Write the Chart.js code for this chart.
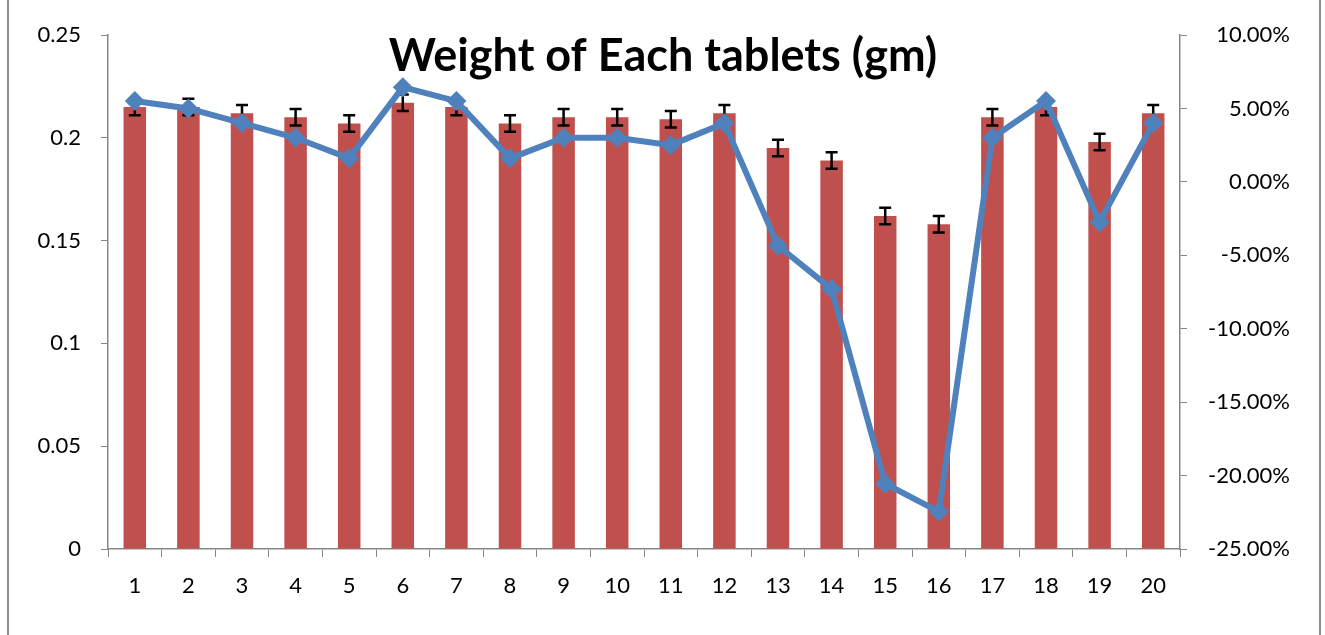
<!DOCTYPE html>
<html>
<head>
<meta charset="utf-8">
<script src="https://cdn.jsdelivr.net/npm/chart.js"></script>
<style>
html, body { margin: 0; padding: 0; background: #fff; }
#wrap { width: 1325px; height: 635px; }
</style>
</head>
<body>
<div id="wrap"><canvas id="weightChart" width="1325" height="635"></canvas></div>
<script>
// tablet numbers
var tablets = ["1", "2", "3", "4", "5", "6", "7", "8", "9", "10",
               "11", "12", "13", "14", "15", "16", "17", "18", "19", "20"];
// weight of each tablet (gm)
var weights = [0.215, 0.215, 0.212, 0.210, 0.207, 0.217, 0.215, 0.207, 0.210, 0.210,
               0.209, 0.212, 0.195, 0.189, 0.162, 0.158, 0.210, 0.215, 0.198, 0.212];
// error bar size
var weightErrors = [0.004, 0.004, 0.004, 0.004, 0.004, 0.004, 0.004, 0.004, 0.004, 0.004,
                    0.004, 0.004, 0.004, 0.004, 0.004, 0.004, 0.004, 0.004, 0.004, 0.004];
// % deviation (right axis)
var deviation = [5.5, 5.0, 4.0, 3.0, 1.6, 6.45, 5.5, 1.6, 3.0, 3.0,
                 2.5, 4.0, -4.35, -7.3, -20.55, -22.45, 3.0, 5.5, -2.75, 4.0];
var leftTicks = [0, 0.05, 0.1, 0.15, 0.2, 0.25];
var rightTicks = [-25, -20, -15, -10, -5, 0, 5, 10];

var axisGrey = "#868686";
var tickFont = { family: "Lato", size: 22 };

var errorBars = {
    id: "errorBars",
    afterDatasetDraw: function(chart, args) {
        if (args.index !== 1) return;
        var ctx = chart.ctx;
        var y = chart.scales.y;
        ctx.save();
        ctx.strokeStyle = "#000";
        ctx.lineWidth = 2.5;
        args.meta.data.forEach(function(bar, i) {
            var top = y.getPixelForValue(weights[i] + weightErrors[i]);
            var bot = y.getPixelForValue(weights[i] - weightErrors[i]);
            ctx.beginPath();
            ctx.moveTo(bar.x, top); ctx.lineTo(bar.x, bot);
            ctx.moveTo(bar.x - 6, top); ctx.lineTo(bar.x + 6, top);
            ctx.moveTo(bar.x - 6, bot); ctx.lineTo(bar.x + 6, bot);
            ctx.stroke();
        });
        ctx.restore();
    }
};

var frameAndTitle = {
    id: "frameAndTitle",
    beforeDraw: function(chart) {
        var ctx = chart.ctx;
        ctx.save();
        ctx.strokeStyle = "#8c8c8c";
        ctx.lineWidth = 2;
        ctx.beginPath();
        ctx.moveTo(8, 0); ctx.lineTo(8, 635);
        ctx.moveTo(1320, 0); ctx.lineTo(1320, 635);
        ctx.stroke();
        ctx.restore();
    },
    afterDraw: function(chart) {
        var ctx = chart.ctx;
        ctx.save();
        ctx.font = "bold 45px Lato";
        ctx.fillStyle = "#000";
        ctx.textAlign = "center";
        ctx.textBaseline = "alphabetic";
        ctx.fillText("Weight of Each tablets (gm)", 663, 71);
        ctx.restore();
    }
};

var ctx = document.getElementById("weightChart").getContext("2d");
var weightChart = new Chart(ctx, {
    type: "bar",
    data: {
        labels: tablets,
        datasets: [
            {
                type: "line",
                label: "% deviation",
                data: deviation,
                yAxisID: "y1",
                borderColor: "#4F81BD",
                backgroundColor: "#4F81BD",
                borderWidth: 6,
                pointStyle: "rectRot",
                pointRadius: 10,
                pointBorderWidth: 0,
                tension: 0,
                order: 0
            },
            {
                label: "Weight",
                data: weights,
                yAxisID: "y",
                backgroundColor: "#C0504D",
                barPercentage: 0.42,
                categoryPercentage: 1,
                order: 1
            }
        ]
    },
    options: {
        responsive: false,
        animation: false,
        layout: { padding: { top: 35, left: 0, right: 35, bottom: 0 } },
        plugins: {
            legend: { display: false },
            tooltip: { enabled: false }
        },
        scales: {
            x: {
                grid: { drawOnChartArea: false, color: axisGrey, tickLength: 8, offset: true },
                border: { color: axisGrey, width: 1.5 },
                ticks: { color: "#000", font: tickFont, padding: 16, maxRotation: 0 },
                afterFit: function(s) { s.height = 86; }
            },
            y: {
                position: "left",
                min: 0, max: 0.25,
                grid: { drawOnChartArea: false, color: axisGrey, tickLength: 7 },
                border: { color: axisGrey, width: 1.5 },
                ticks: { color: "#000", font: tickFont, padding: 20,
                         callback: function(v) { return String(v); } },
                afterBuildTicks: function(s) { s.ticks = leftTicks.map(function(v) { return { value: v }; }); },
                afterFit: function(s) { s.width = 108; }
            },
            y1: {
                position: "right",
                min: -25, max: 10,
                grid: { drawOnChartArea: false, color: axisGrey, tickLength: 7 },
                border: { color: axisGrey, width: 1.5 },
                ticks: { color: "#000", font: tickFont, crossAlign: "far",
                         callback: function(v) { return v.toFixed(2) + "%"; } },
                afterBuildTicks: function(s) { s.ticks = rightTicks.map(function(v) { return { value: v }; }); },
                afterFit: function(s) { s.width = 110; }
            }
        }
    },
    plugins: [errorBars, frameAndTitle]
});
</script>
</body>
</html>
